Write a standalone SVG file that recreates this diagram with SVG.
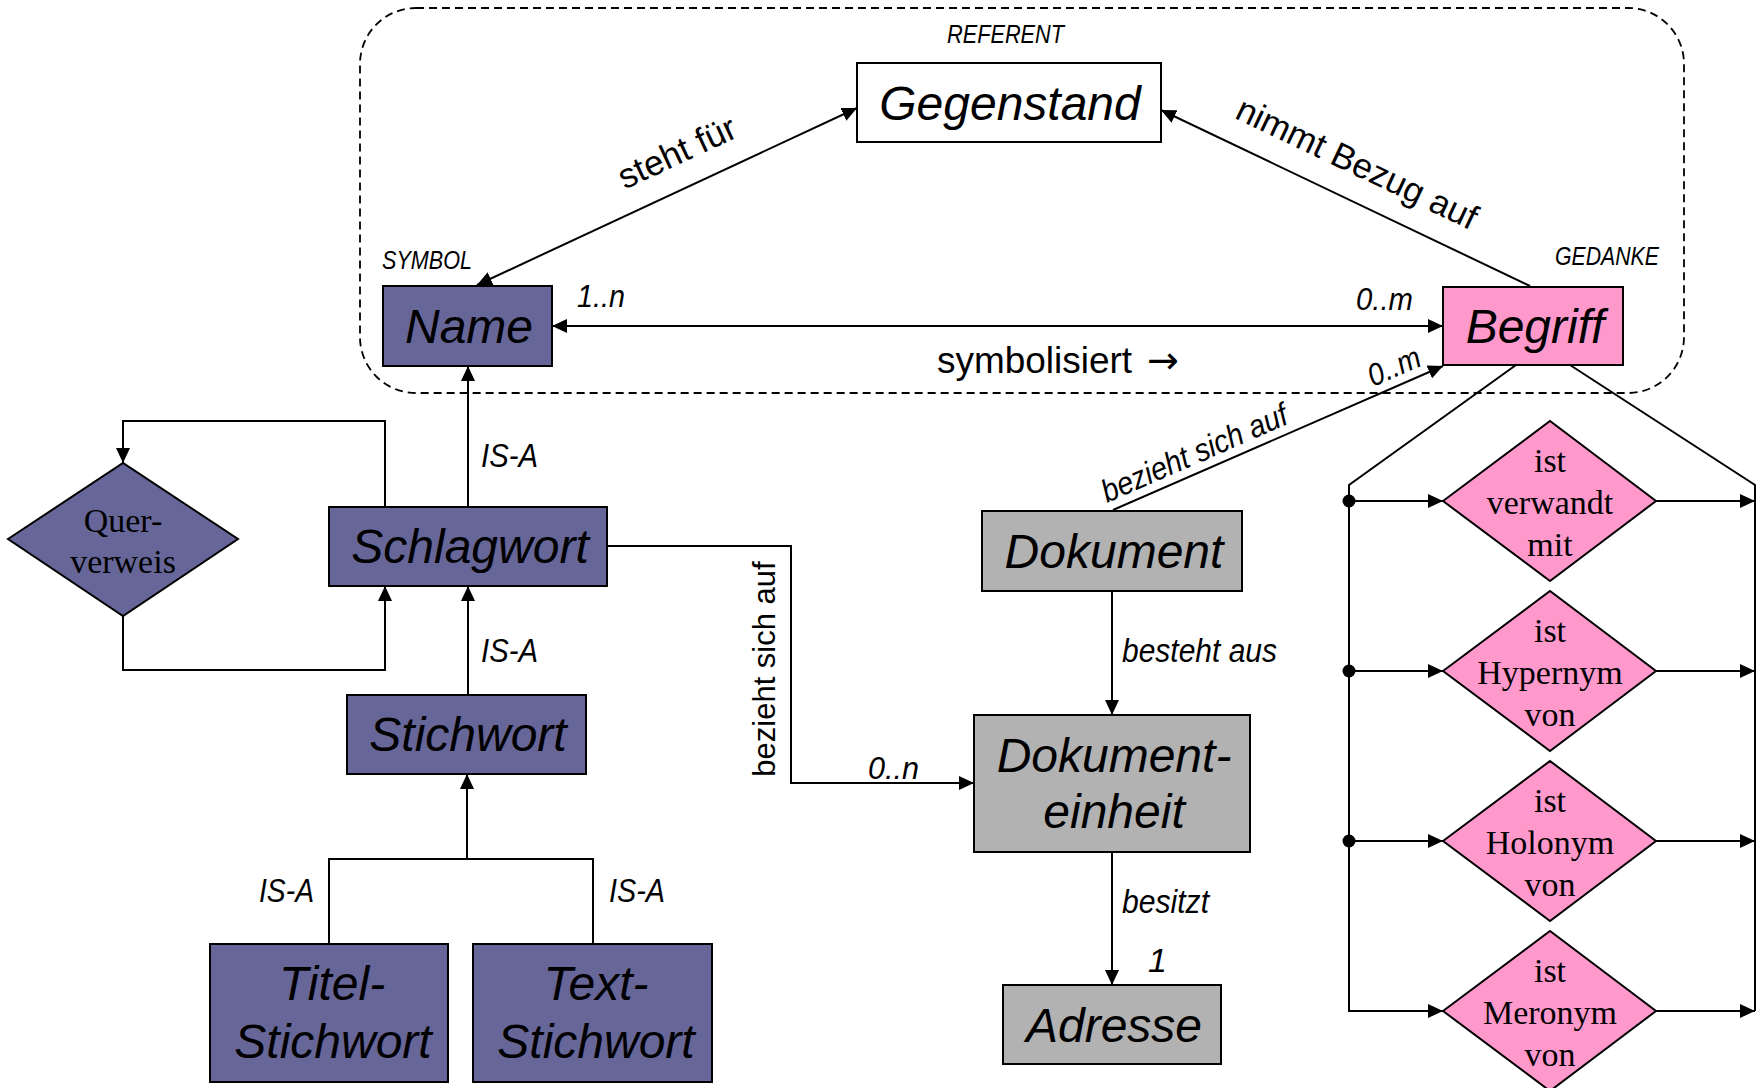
<svg xmlns="http://www.w3.org/2000/svg" width="1762" height="1088" viewBox="0 0 1762 1088">
  <style>
    .box { stroke: #000; stroke-width: 2; }
    .purple { fill: #666699; }
    .pink { fill: #ff99cc; }
    .grey { fill: #b2b2b2; }
    .white { fill: #ffffff; }
    .title { font-family: "Liberation Sans", Arial, sans-serif; font-style: italic; font-size: 48px; fill: #000; text-anchor: middle; }
    .serif { font-family: "Liberation Serif", "Times New Roman", serif; font-size: 34px; fill: #000; text-anchor: middle; }
    .lbl { font-family: "Liberation Sans Narrow", "Liberation Sans", Arial, sans-serif; font-style: italic; fill: #000; }
    .rel { font-family: "Liberation Sans", Arial, sans-serif; fill: #000; }
    .wire { fill: none; stroke: #000; stroke-width: 2; }
    .frame { fill: none; stroke: #000; stroke-width: 1.8; stroke-dasharray: 8 5; }
  </style>
  <defs>
    <marker id="arrow" markerUnits="userSpaceOnUse" markerWidth="16" markerHeight="14" refX="15" refY="7" orient="auto-start-reverse">
      <path d="M0,0 L15,7 L0,14 z" fill="#000"/>
    </marker>
  </defs>

  <rect width="1762" height="1088" fill="#ffffff"/>

  <!-- semiotic triangle frame -->
  <rect class="frame" x="360" y="8" width="1324" height="385" rx="56" ry="56"/>
  <text class="lbl" x="947" y="43" font-size="26" textLength="117" lengthAdjust="spacingAndGlyphs">REFERENT</text>
  <text class="lbl" x="382" y="269" font-size="25" textLength="90" lengthAdjust="spacingAndGlyphs">SYMBOL</text>
  <text class="lbl" x="1555" y="265" font-size="25" textLength="104" lengthAdjust="spacingAndGlyphs">GEDANKE</text>

  <!-- connectors -->
  <g id="connectors">
    <line id="steht-fuer" class="wire" x1="477" y1="285" x2="857" y2="108" marker-start="url(#arrow)" marker-end="url(#arrow)"/>
    <line id="nimmt-bezug" class="wire" x1="1530" y1="286" x2="1161" y2="110" marker-end="url(#arrow)"/>
    <line id="symbolisiert" class="wire" x1="552" y1="326" x2="1443" y2="326" marker-start="url(#arrow)" marker-end="url(#arrow)"/>
    <line id="isa-schlagwort-name" class="wire" x1="468" y1="507" x2="468" y2="366" marker-end="url(#arrow)"/>
    <line id="isa-stichwort-schlagwort" class="wire" x1="468" y1="695" x2="468" y2="586" marker-end="url(#arrow)"/>
    <polyline id="isa-fork" class="wire" points="329,944 329,859 593,859 593,944"/>
    <line id="isa-fork-stem" class="wire" x1="467" y1="859" x2="467" y2="774" marker-end="url(#arrow)"/>
    <polyline id="loop-out" class="wire" points="385,507 385,421 123,421 123,463" marker-end="url(#arrow)"/>
    <polyline id="loop-back" class="wire" points="123,616 123,670 385,670 385,586" marker-end="url(#arrow)"/>
    <polyline id="schlagwort-einheit" class="wire" points="607,546 791,546 791,783 974,783" marker-end="url(#arrow)"/>
    <line id="dokument-begriff" class="wire" x1="1113" y1="510" x2="1443" y2="366" marker-end="url(#arrow)"/>
    <line id="besteht-aus" class="wire" x1="1112" y1="591" x2="1112" y2="715" marker-end="url(#arrow)"/>
    <line id="besitzt" class="wire" x1="1112" y1="852" x2="1112" y2="985" marker-end="url(#arrow)"/>

    <!-- concept relations bus -->
    <polyline class="wire" points="1516,365 1349,485 1349,1011 1443,1011" marker-end="url(#arrow)"/>
    <line class="wire" x1="1349" y1="501" x2="1443" y2="501" marker-end="url(#arrow)"/>
    <line class="wire" x1="1349" y1="671" x2="1443" y2="671" marker-end="url(#arrow)"/>
    <line class="wire" x1="1349" y1="841" x2="1443" y2="841" marker-end="url(#arrow)"/>
    <circle cx="1349" cy="501" r="6.5" fill="#000"/>
    <circle cx="1349" cy="671" r="6.5" fill="#000"/>
    <circle cx="1349" cy="841" r="6.5" fill="#000"/>
    <polyline class="wire" points="1570,365 1755,485 1755,1011"/>
    <line class="wire" x1="1656" y1="501" x2="1755" y2="501" marker-end="url(#arrow)"/>
    <line class="wire" x1="1656" y1="671" x2="1755" y2="671" marker-end="url(#arrow)"/>
    <line class="wire" x1="1656" y1="841" x2="1755" y2="841" marker-end="url(#arrow)"/>
    <line class="wire" x1="1656" y1="1011" x2="1755" y2="1011" marker-end="url(#arrow)"/>

    <!-- connector labels -->
    <text class="rel" font-size="35" text-anchor="middle" transform="translate(682,163) rotate(-25)">steht für</text>
    <text class="rel" font-size="35" text-anchor="middle" transform="translate(1352,174) rotate(25.4)">nimmt Bezug auf</text>
    <text class="rel" x="937" y="373" font-size="36"><tspan textLength="195" lengthAdjust="spacingAndGlyphs">symbolisiert</tspan><tspan x="1147" font-family="'DejaVu Sans', sans-serif" font-size="38">→</tspan></text>
    <text class="lbl" x="577" y="307" font-size="31" textLength="48" lengthAdjust="spacingAndGlyphs">1..n</text>
    <text class="lbl" x="1356" y="310" font-size="31" textLength="57" lengthAdjust="spacingAndGlyphs">0..m</text>
    <text class="lbl" x="481" y="467" font-size="33" textLength="57" lengthAdjust="spacingAndGlyphs">IS-A</text>
    <text class="lbl" x="481" y="662" font-size="33" textLength="57" lengthAdjust="spacingAndGlyphs">IS-A</text>
    <text class="lbl" x="259" y="902" font-size="33" textLength="55" lengthAdjust="spacingAndGlyphs">IS-A</text>
    <text class="lbl" x="609" y="902" font-size="33" textLength="56" lengthAdjust="spacingAndGlyphs">IS-A</text>
    <text class="rel" font-size="31" text-anchor="middle" transform="translate(775,669) rotate(-90)">bezieht sich auf</text>
    <text class="lbl" x="868" y="779" font-size="31" textLength="51" lengthAdjust="spacingAndGlyphs">0..n</text>
    <text class="lbl" font-size="32" textLength="200" lengthAdjust="spacingAndGlyphs" transform="translate(1107,503) rotate(-23.6)">bezieht sich auf</text>
    <text class="lbl" font-size="31" textLength="55" lengthAdjust="spacingAndGlyphs" transform="translate(1373,387) rotate(-23.6)">0..m</text>
    <text class="lbl" x="1122" y="662" font-size="34" textLength="155" lengthAdjust="spacingAndGlyphs">besteht aus</text>
    <text class="lbl" x="1122" y="913" font-size="34" textLength="87" lengthAdjust="spacingAndGlyphs">besitzt</text>
    <text class="lbl" x="1148" y="972" font-size="34">1</text>
  </g>

  <!-- nodes -->
  <g id="gegenstand">
    <rect class="box white" x="857" y="63" width="304" height="79"/>
    <text class="title" x="1010" y="120">Gegenstand</text>
  </g>
  <g id="name">
    <rect class="box purple" x="383" y="286" width="169" height="80"/>
    <text class="title" x="469" y="343">Name</text>
  </g>
  <g id="begriff">
    <rect class="box pink" x="1443" y="287" width="180" height="78"/>
    <text class="title" x="1535" y="343">Begriff</text>
  </g>
  <g id="querverweis">
    <polygon class="box purple" points="8,539 123,463 238,539 123,616"/>
    <text class="serif" x="123" y="532">Quer-</text>
    <text class="serif" x="123" y="573">verweis</text>
  </g>
  <g id="schlagwort">
    <rect class="box purple" x="329" y="507" width="278" height="79"/>
    <text class="title" x="470" y="563">Schlagwort</text>
  </g>
  <g id="stichwort">
    <rect class="box purple" x="347" y="695" width="239" height="79"/>
    <text class="title" x="468" y="751">Stichwort</text>
  </g>
  <g id="titel-stichwort">
    <rect class="box purple" x="210" y="944" width="238" height="138"/>
    <text class="title" x="332" y="1000">Titel-</text>
    <text class="title" x="333" y="1058">Stichwort</text>
  </g>
  <g id="text-stichwort">
    <rect class="box purple" x="473" y="944" width="239" height="138"/>
    <text class="title" x="596" y="1000">Text-</text>
    <text class="title" x="596" y="1058">Stichwort</text>
  </g>
  <g id="dokument">
    <rect class="box grey" x="982" y="511" width="260" height="80"/>
    <text class="title" x="1114" y="568">Dokument</text>
  </g>
  <g id="dokumenteinheit">
    <rect class="box grey" x="974" y="715" width="276" height="137"/>
    <text class="title" x="1114" y="772">Dokument-</text>
    <text class="title" x="1114" y="828">einheit</text>
  </g>
  <g id="adresse">
    <rect class="box grey" x="1003" y="985" width="218" height="79"/>
    <text class="title" x="1114" y="1042">Adresse</text>
  </g>
  <g id="verwandt">
    <polygon class="box pink" points="1443,501 1550,421 1656,501 1550,581"/>
    <text class="serif" x="1550" y="472">ist</text>
    <text class="serif" x="1550" y="514">verwandt</text>
    <text class="serif" x="1550" y="556">mit</text>
  </g>
  <g id="hypernym">
    <polygon class="box pink" points="1443,671 1550,591 1656,671 1550,751"/>
    <text class="serif" x="1550" y="642">ist</text>
    <text class="serif" x="1550" y="684">Hypernym</text>
    <text class="serif" x="1550" y="726">von</text>
  </g>
  <g id="holonym">
    <polygon class="box pink" points="1443,841 1550,761 1656,841 1550,921"/>
    <text class="serif" x="1550" y="812">ist</text>
    <text class="serif" x="1550" y="854">Holonym</text>
    <text class="serif" x="1550" y="896">von</text>
  </g>
  <g id="meronym">
    <polygon class="box pink" points="1443,1011 1550,931 1656,1011 1550,1091"/>
    <text class="serif" x="1550" y="982">ist</text>
    <text class="serif" x="1550" y="1024">Meronym</text>
    <text class="serif" x="1550" y="1066">von</text>
  </g>
</svg>
